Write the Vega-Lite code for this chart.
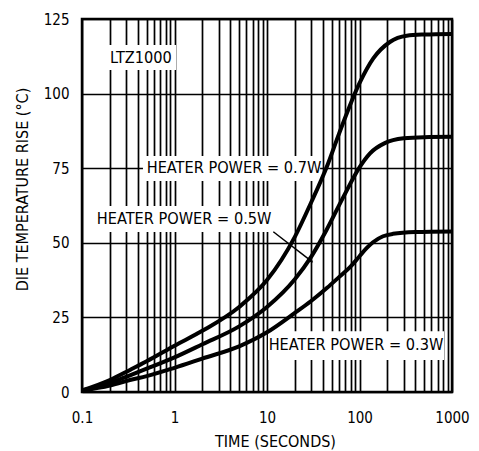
{
  "$schema": "https://vega.github.io/schema/vega-lite/v6.json",
  "width": 370,
  "height": 373,
  "autosize": {"type": "none"},
  "padding": {"left": 82, "top": 19, "right": 27, "bottom": 59},
  "background": "white",
  "config": {
    "view": {"stroke": "black", "strokeWidth": 2.5},
    "font": "DejaVu Sans Condensed",
    "axis": {
      "labelFont": "DejaVu Sans Condensed",
      "titleFont": "DejaVu Sans Condensed",
      "labelColor": "black",
      "titleColor": "black",
      "labelFontSize": 15,
      "titleFontSize": 16,
      "titleFontWeight": "normal",
      "gridColor": "black",
      "gridOpacity": 1,
      "gridWidth": 1.7,
      "domain": false,
      "ticks": false
    }
  },
  "datasets": {
    "curves": [
      {"t": 0.1, "v": 0.5, "power": "0.7W"}, {"t": 0.2, "v": 4, "power": "0.7W"}, {"t": 0.33, "v": 7.4, "power": "0.7W"}, {"t": 0.5, "v": 10.3, "power": "0.7W"}, {"t": 1, "v": 15.5, "power": "0.7W"}, {"t": 2, "v": 20.5, "power": "0.7W"}, {"t": 5, "v": 28.5, "power": "0.7W"}, {"t": 10, "v": 37.5, "power": "0.7W"}, {"t": 20, "v": 52, "power": "0.7W"}, {"t": 30, "v": 63.5, "power": "0.7W"}, {"t": 45, "v": 76, "power": "0.7W"}, {"t": 60, "v": 86.5, "power": "0.7W"}, {"t": 100, "v": 103.5, "power": "0.7W"}, {"t": 141, "v": 111.8, "power": "0.7W"}, {"t": 213, "v": 117.3, "power": "0.7W"}, {"t": 324, "v": 119.4, "power": "0.7W"}, {"t": 500, "v": 119.8, "power": "0.7W"}, {"t": 1000, "v": 120, "power": "0.7W"},
      {"t": 0.1, "v": 0.5, "power": "0.5W"}, {"t": 0.2, "v": 3, "power": "0.5W"}, {"t": 0.33, "v": 5.6, "power": "0.5W"}, {"t": 0.5, "v": 7.8, "power": "0.5W"}, {"t": 1, "v": 11.6, "power": "0.5W"}, {"t": 2, "v": 16, "power": "0.5W"}, {"t": 5, "v": 22, "power": "0.5W"}, {"t": 10, "v": 28.5, "power": "0.5W"}, {"t": 20, "v": 37.8, "power": "0.5W"}, {"t": 30, "v": 45.3, "power": "0.5W"}, {"t": 44, "v": 54.3, "power": "0.5W"}, {"t": 67, "v": 65.4, "power": "0.5W"}, {"t": 100, "v": 75.3, "power": "0.5W"}, {"t": 130, "v": 80, "power": "0.5W"}, {"t": 190, "v": 83.5, "power": "0.5W"}, {"t": 300, "v": 85, "power": "0.5W"}, {"t": 500, "v": 85.4, "power": "0.5W"}, {"t": 1000, "v": 85.5, "power": "0.5W"},
      {"t": 0.1, "v": 0.5, "power": "0.3W"}, {"t": 0.2, "v": 2.2, "power": "0.3W"}, {"t": 0.33, "v": 4, "power": "0.3W"}, {"t": 0.5, "v": 5.3, "power": "0.3W"}, {"t": 1, "v": 8.1, "power": "0.3W"}, {"t": 2, "v": 11.2, "power": "0.3W"}, {"t": 5, "v": 15.3, "power": "0.3W"}, {"t": 10, "v": 20, "power": "0.3W"}, {"t": 20, "v": 26.5, "power": "0.3W"}, {"t": 30, "v": 30.5, "power": "0.3W"}, {"t": 45, "v": 35, "power": "0.3W"}, {"t": 60, "v": 38.5, "power": "0.3W"}, {"t": 80, "v": 42, "power": "0.3W"}, {"t": 100, "v": 45.5, "power": "0.3W"}, {"t": 120, "v": 48.3, "power": "0.3W"}, {"t": 140, "v": 50.2, "power": "0.3W"}, {"t": 180, "v": 52.2, "power": "0.3W"}, {"t": 230, "v": 53, "power": "0.3W"}, {"t": 400, "v": 53.6, "power": "0.3W"}, {"t": 1000, "v": 53.8, "power": "0.3W"}
    ],
    "boxes": [
      {"t": 0.186, "t2": 1.04, "v": 107.9, "v2": 116.3},
      {"t": 0.456, "t2": 37.5, "v": 70.7, "v2": 79.1},
      {"t": 0.138, "t2": 11.3, "v": 53.6, "v2": 62.3},
      {"t": 10.26, "t2": 820, "v": 10.7, "v2": 20.4}
    ],
    "labels": [
      {"t": 0.434, "v": 111.9, "text": "LTZ1000"},
      {"t": 4.4, "v": 75.1, "text": "HEATER POWER = 0.7W"},
      {"t": 1.27, "v": 58.0, "text": "HEATER POWER = 0.5W"},
      {"t": 91.6, "v": 15.7, "text": "HEATER POWER = 0.3W"}
    ],
    "arrow": [
      {"t": 11.7, "v": 53.7, "t2": 29.2, "v2": 44.2}
    ]
  },
  "layer": [
    {
      "data": {"name": "boxes"},
      "mark": {"type": "rect", "fill": "white"},
      "encoding": {
        "x": {
          "field": "t", "type": "quantitative",
          "scale": {"type": "log", "domain": [0.1, 1000], "nice": false},
          "axis": {
            "title": "TIME (SECONDS)",
            "values": [0.1, 0.2, 0.3, 0.4, 0.5, 0.6, 0.7, 0.8, 0.9, 1, 2, 3, 4, 5, 6, 7, 8, 9, 10, 20, 30, 40, 50, 60, 70, 80, 90, 100, 200, 300, 400, 500, 600, 700, 800, 900, 1000],
            "format": "~g",
            "labelExpr": "(datum.value == 0.1 || datum.value == 1 || datum.value == 10 || datum.value == 100 || datum.value == 1000) ? datum.label : ''",
            "labelPadding": 18,
            "labelFlush": false,
            "labelOverlap": false,
            "titleX": 193,
            "titleY": 49,
            "titleBaseline": "middle",
            "titleAnchor": "middle"
          }
        },
        "x2": {"field": "t2"},
        "y": {
          "field": "v", "type": "quantitative",
          "scale": {"domain": [0, 125], "nice": false},
          "axis": {
            "title": "DIE TEMPERATURE RISE (°C)",
            "values": [0, 12.5, 25, 37.5, 50, 62.5, 75, 87.5, 100, 112.5, 125],
            "labelExpr": "datum.value % 25 == 0 ? datum.label : ''",
            "labelPadding": 13,
            "labelOverlap": false,
            "labelFlush": false,
            "titleX": -60,
            "titleY": 170,
            "titleAngle": -90,
            "titleAlign": "center",
            "titleBaseline": "middle"
          }
        },
        "y2": {"field": "v2"}
      }
    },
    {
      "data": {"name": "curves"},
      "mark": {"type": "line", "color": "black", "strokeWidth": 4, "interpolate": "monotone"},
      "encoding": {
        "x": {"field": "t", "type": "quantitative"},
        "y": {"field": "v", "type": "quantitative"},
        "detail": {"field": "power"}
      }
    },
    {
      "data": {"name": "arrow"},
      "mark": {"type": "rule", "color": "black", "strokeWidth": 1.5},
      "encoding": {
        "x": {"field": "t", "type": "quantitative"},
        "y": {"field": "v", "type": "quantitative"},
        "x2": {"field": "t2"},
        "y2": {"field": "v2"}
      }
    },
    {
      "data": {"name": "arrow"},
      "mark": {"type": "point", "shape": "triangle", "filled": true, "color": "black", "size": 45, "angle": 127, "opacity": 1},
      "encoding": {
        "x": {"field": "t2", "type": "quantitative"},
        "y": {"field": "v2", "type": "quantitative"}
      }
    },
    {
      "data": {"name": "labels"},
      "mark": {"type": "text", "font": "DejaVu Sans Condensed", "fontSize": 16.2, "color": "black", "align": "center", "baseline": "middle"},
      "encoding": {
        "x": {"field": "t", "type": "quantitative"},
        "y": {"field": "v", "type": "quantitative"},
        "text": {"field": "text"}
      }
    }
  ]
}
